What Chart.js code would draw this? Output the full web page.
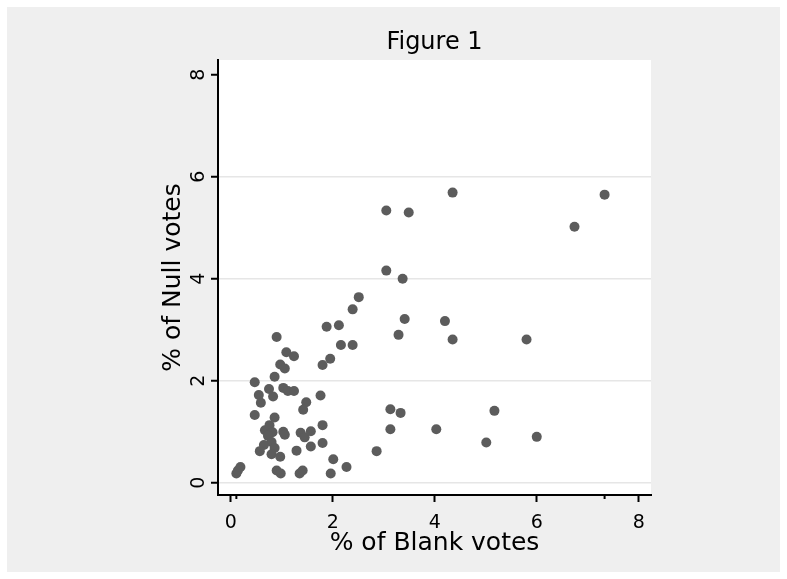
<!DOCTYPE html>
<html>
<head>
<meta charset="utf-8">
<script src="https://cdn.jsdelivr.net/npm/chart.js@4"></script>
<style>
  html, body { margin: 0; padding: 0; background: #ffffff; }
  canvas { display: block; }
</style>
</head>
<body>
<canvas id="grafico" width="787" height="579"></canvas>
<script>
const blankVotes = [7.33, 6.74, 4.35, 3.05, 3.49, 3.05, 3.37, 2.51, 2.39, 3.41, 4.20, 1.88, 2.12, 3.29, 4.35, 5.80,
    2.16, 2.39, 1.95, 1.80, 3.13, 5.17, 3.33, 3.13, 4.03, 5.01, 6.00, 2.86, 2.27, 2.01, 1.96,
    0.90, 1.09, 1.24, 0.97, 1.06, 0.86, 0.47, 0.75, 1.03, 1.12, 1.24, 0.55, 0.83, 0.59, 1.48,
    1.42, 1.76, 0.47, 0.86, 0.67, 0.76, 0.82, 0.73, 0.80, 1.03, 1.06, 1.37, 1.45, 1.57, 1.80,
    1.80, 1.57, 1.29, 0.65, 0.57, 0.86, 0.80, 0.97, 0.11, 0.14, 0.19, 0.90, 0.98, 1.35, 1.41];
const nullVotes = [5.65, 5.02, 5.69, 5.34, 5.30, 4.16, 4.00, 3.64, 3.40, 3.21, 3.17, 3.06, 3.09, 2.90, 2.81, 2.81,
    2.70, 2.70, 2.43, 2.31, 1.44, 1.41, 1.37, 1.05, 1.05, 0.79, 0.90, 0.62, 0.31, 0.46, 0.18,
    2.86, 2.56, 2.48, 2.32, 2.24, 2.08, 1.97, 1.84, 1.86, 1.80, 1.80, 1.72, 1.69, 1.57, 1.58,
    1.43, 1.71, 1.33, 1.28, 1.03, 1.13, 0.99, 0.92, 0.80, 1.00, 0.94, 0.98, 0.89, 1.01, 1.13,
    0.78, 0.71, 0.63, 0.74, 0.62, 0.68, 0.56, 0.51, 0.18, 0.24, 0.31, 0.24, 0.18, 0.18, 0.24];

const xTickValues = [0, 2, 4, 6, 8];
const xTickLabels = ['0', '2', '4', '6', '8'];
const yTickValues = [0, 2, 4, 6, 8];
const yTickLabels = ['0', '2', '4', '6', '8'];

const chartTitle = 'Figure 1';
const xTitle = '% of Blank votes';
const yTitle = '% of Null votes';

const FUENTE = 'DejaVu Sans';

const puntos = blankVotes.map((x, i) => ({ x: x, y: nullVotes[i] }));

// fondo gris, area del grafico blanca, titulo y marcas de min/max
const fondo = {
    id: 'fondo',
    beforeDraw(chart) {
        const ctx = chart.ctx;
        const a = chart.chartArea;
        ctx.save();
        ctx.fillStyle = '#ffffff';
        ctx.fillRect(0, 0, chart.width, chart.height);
        ctx.fillStyle = '#efefef';
        ctx.fillRect(7, 7, chart.width - 14, chart.height - 14);
        ctx.fillStyle = '#ffffff';
        ctx.fillRect(a.left, a.top, a.right - a.left, a.bottom - a.top);
        ctx.restore();
    },
    afterDraw(chart) {
        const ctx = chart.ctx;
        const a = chart.chartArea;
        ctx.save();
        ctx.fillStyle = '#000000';
        ctx.font = '24px "' + FUENTE + '"';
        ctx.textAlign = 'center';
        ctx.textBaseline = 'alphabetic';
        ctx.fillText(chartTitle, (a.left + a.right) / 2, 49);

        // marcas cortas en el minimo y maximo de x
        const sx = chart.scales.x;
        ctx.strokeStyle = '#000000';
        ctx.lineWidth = 2;
        [Math.min(...blankVotes), Math.max(...blankVotes)].forEach(v => {
            const px = sx.getPixelForValue(v);
            ctx.beginPath();
            ctx.moveTo(px, a.bottom);
            ctx.lineTo(px, a.bottom + 4);
            ctx.stroke();
        });
        ctx.restore();
    }
};

new Chart(document.getElementById('grafico').getContext('2d'), {
    type: 'scatter',
    data: {
        datasets: [{
            data: puntos,
            backgroundColor: '#5c5c5c',
            borderWidth: 0,
            pointRadius: 5,
            pointHoverRadius: 5
        }]
    },
    options: {
        responsive: false,
        animation: false,
        layout: {
            padding: { top: 60, left: 150, right: 136, bottom: 19 }
        },
        plugins: {
            legend: { display: false },
            tooltip: { enabled: false },
            title: { display: false }
        },
        scales: {
            x: {
                type: 'linear',
                min: -0.25,
                max: 8.24,
                afterBuildTicks: s => { s.ticks = xTickValues.map(v => ({ value: v })); },
                afterFit: s => { s.height = 65; },
                ticks: {
                    autoSkip: false,
                    maxRotation: 0,
                    padding: 10,
                    color: '#000000',
                    font: { family: FUENTE, size: 19 },
                    callback: (v, i) => xTickLabels[i]
                },
                grid: {
                    drawOnChartArea: false,
                    drawTicks: true,
                    tickLength: 7,
                    tickColor: '#000000',
                    tickWidth: 2
                },
                border: { display: true, color: '#000000', width: 2 },
                title: {
                    display: true,
                    text: xTitle,
                    color: '#000000',
                    font: { family: FUENTE, size: 25 },
                    padding: { top: 0, bottom: 2 }
                }
            },
            y: {
                type: 'linear',
                min: -0.24,
                max: 8.29,
                afterBuildTicks: s => { s.ticks = yTickValues.map(v => ({ value: v })); },
                afterFit: s => { s.width = 68; },
                ticks: {
                    autoSkip: false,
                    minRotation: 90,
                    maxRotation: 90,
                    crossAlign: 'center',
                    padding: 6,
                    color: '#000000',
                    font: { family: FUENTE, size: 19 },
                    callback: (v, i) => yTickLabels[i]
                },
                grid: {
                    drawTicks: true,
                    tickLength: 7,
                    tickColor: '#000000',
                    tickWidth: 2,
                    lineWidth: 1.5,
                    color: c => (c.tick && c.tick.value === 8) ? 'rgba(0,0,0,0)' : '#e6e6e6'
                },
                border: { display: true, color: '#000000', width: 2 },
                title: {
                    display: true,
                    text: yTitle,
                    color: '#000000',
                    font: { family: FUENTE, size: 25 },
                    padding: { top: 8, bottom: 0 }
                }
            }
        }
    },
    plugins: [fondo]
});
</script>
</body>
</html>
